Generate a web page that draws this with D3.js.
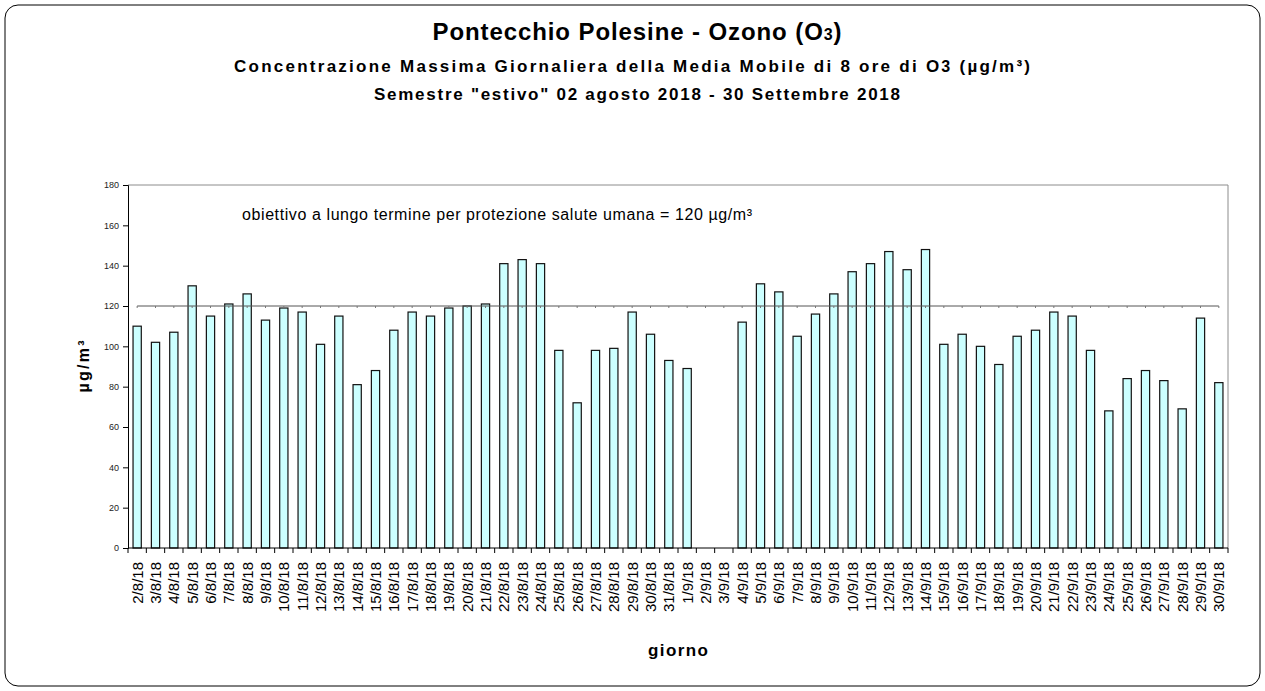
<!DOCTYPE html>
<html lang="it">
<head>
<meta charset="UTF-8">
<script src="https://d3js.org/d3.v7.min.js"></script>
<title>Pontecchio Polesine - Ozono</title>
<style>
    body { margin: 0; padding: 0; background: #fff; }
    svg { display: block; font-family: "Liberation Sans", Arial, sans-serif; }
</style>
</head>
<body>
<script>
// giorni e valori (max giornaliero media mobile 8 ore, µg/m³)
var days = ["2/8/18","3/8/18","4/8/18","5/8/18","6/8/18","7/8/18","8/8/18","9/8/18","10/8/18","11/8/18",
    "12/8/18","13/8/18","14/8/18","15/8/18","16/8/18","17/8/18","18/8/18","19/8/18","20/8/18","21/8/18",
    "22/8/18","23/8/18","24/8/18","25/8/18","26/8/18","27/8/18","28/8/18","29/8/18","30/8/18","31/8/18",
    "1/9/18","2/9/18","3/9/18","4/9/18","5/9/18","6/9/18","7/9/18","8/9/18","9/9/18","10/9/18",
    "11/9/18","12/9/18","13/9/18","14/9/18","15/9/18","16/9/18","17/9/18","18/9/18","19/9/18","20/9/18",
    "21/9/18","22/9/18","23/9/18","24/9/18","25/9/18","26/9/18","27/9/18","28/9/18","29/9/18","30/9/18"]
var ozone = [110, 102, 107, 130, 115, 121, 126, 113, 119, 117,
    101, 115, 81, 88, 108, 117, 115, 119, 120, 121,
    141, 143, 141, 98, 72, 98, 99, 117, 106, 93,
    89, null, null, 112, 131, 127, 105, 116, 126, 137,
    141, 147, 138, 148, 101, 106, 100, 91, 105, 108,
    117, 115, 98, 68, 84, 88, 83, 69, 114, 82]
var yTicks = [0, 20, 40, 60, 80, 100, 120, 140, 160, 180]
var target = 120

var W = 1265, H = 691
var plotL = 128, plotR = 1228, plotT = 185, plotB = 548
var pad = 0.55

var svg = d3.select("body").append("svg")
    .attr("width", W)
    .attr("height", H)

// cornice
svg.append("rect")
    .attr("x", 5).attr("y", 5)
    .attr("width", W - 10).attr("height", H - 10)
    .attr("rx", 13).attr("ry", 13)
    .attr("fill", "#fff").attr("stroke", "#000").attr("stroke-width", 1)

// titoli
var t1 = svg.append("text")
    .attr("x", 637).attr("y", 40)
    .attr("text-anchor", "middle")
    .attr("font-size", 24).attr("font-weight", "bold")
    .attr("textLength", 409).attr("lengthAdjust", "spacing")
t1.append("tspan").text("Pontecchio Polesine - Ozono (O")
t1.append("tspan").attr("font-size", 16).text("3")
t1.append("tspan").text(")")

var t2 = svg.append("text")
    .attr("x", 632).attr("y", 72)
    .attr("text-anchor", "middle")
    .attr("font-size", 17).attr("font-weight", "bold")
    .attr("textLength", 796).attr("lengthAdjust", "spacing")
t2.append("tspan").text("Concentrazione Massima Giornaliera della Media Mobile di 8 ore di O")
t2.append("tspan").attr("font-size", 16).text("3")
t2.append("tspan").text("  (µg/m³)")

svg.append("text")
    .attr("x", 637).attr("y", 100)
    .attr("text-anchor", "middle")
    .attr("font-size", 17).attr("font-weight", "bold")
    .attr("textLength", 526).attr("lengthAdjust", "spacing")
    .text("Semestre \"estivo\" 02 agosto 2018 - 30 Settembre 2018")

var x = d3.scaleBand()
    .domain(days)
    .range([plotL, plotR])
    .paddingInner(pad)
    .paddingOuter(pad / 2)

var y = d3.scaleLinear()
    .domain([0, 180])
    .range([plotB, plotT])

var step = x.step()
function center(d) { return x(d) + x.bandwidth() / 2 }

// bordo area grafico
svg.append("path")
    .attr("d", "M" + plotL + "," + plotT + "H" + plotR + "V" + plotB)
    .attr("fill", "none").attr("stroke", "#8c8c8c").attr("stroke-width", 1)

// barre
svg.append("g").selectAll("rect")
    .data(days.map(function (d, i) { return { day: d, v: ozone[i] } }).filter(function (d) { return d.v != null }))
    .enter()
    .append("rect")
    .attr("x", function (d) { return x(d.day) })
    .attr("y", function (d) { return y(d.v) })
    .attr("width", x.bandwidth())
    .attr("height", function (d) { return y(0) - y(d.v) })
    .attr("fill", "#ccffff")
    .attr("stroke", "#111")
    .attr("stroke-width", 1.2)

// linea obiettivo 120
svg.append("line")
    .attr("x1", center(days[0])).attr("x2", center(days[days.length - 1]))
    .attr("y1", y(target)).attr("y2", y(target))
    .attr("stroke", "#555").attr("stroke-width", 1)
svg.append("g").selectAll("line")
    .data(days)
    .enter()
    .append("line")
    .attr("x1", center).attr("x2", center)
    .attr("y1", y(target)).attr("y2", y(target) + 2)
    .attr("stroke", "#777").attr("stroke-width", 1)

svg.append("text")
    .attr("x", 242).attr("y", 220)
    .attr("font-size", 16)
    .attr("textLength", 510).attr("lengthAdjust", "spacing")
    .text("obiettivo a lungo termine per protezione salute umana = " + target + " µg/m³")

// asse y
var yAxis = svg.append("g")
    .attr("transform", "translate(" + plotL + ",0)")
    .call(d3.axisLeft(y).tickValues(yTicks).tickSize(5).tickPadding(4))
yAxis.select(".domain").attr("stroke", "#000")
yAxis.selectAll(".tick line").attr("stroke", "#000")
yAxis.selectAll("text").attr("font-size", 9).attr("fill", "#222")
    .attr("font-family", "\"Liberation Sans\", Arial, sans-serif")

svg.append("text")
    .attr("transform", "translate(89," + ((plotT + plotB) / 2) + ") rotate(-90)")
    .attr("text-anchor", "middle")
    .attr("font-size", 16).attr("font-weight", "bold")
    .attr("textLength", 52).attr("lengthAdjust", "spacing")
    .text("µg/m³")

// asse x
svg.append("line")
    .attr("x1", plotL).attr("x2", plotR)
    .attr("y1", plotB).attr("y2", plotB)
    .attr("stroke", "#000")
svg.append("g").selectAll("line")
    .data(d3.range(days.length + 1))
    .enter()
    .append("line")
    .attr("x1", function (i) { return plotL + i * step })
    .attr("x2", function (i) { return plotL + i * step })
    .attr("y1", plotB).attr("y2", plotB + 5)
    .attr("stroke", "#000")

svg.append("g").selectAll("text")
    .data(days)
    .enter()
    .append("text")
    .attr("transform", function (d) { return "translate(" + (center(d) + 5.5) + ",562) rotate(-90)" })
    .attr("text-anchor", "end")
    .attr("font-size", 15)
    .text(function (d) { return d })

svg.append("text")
    .attr("x", (plotL + plotR) / 2).attr("y", 656)
    .attr("text-anchor", "middle")
    .attr("font-size", 17).attr("font-weight", "bold")
    .attr("textLength", 60).attr("lengthAdjust", "spacing")
    .text("giorno")
</script>
</body>
</html>
